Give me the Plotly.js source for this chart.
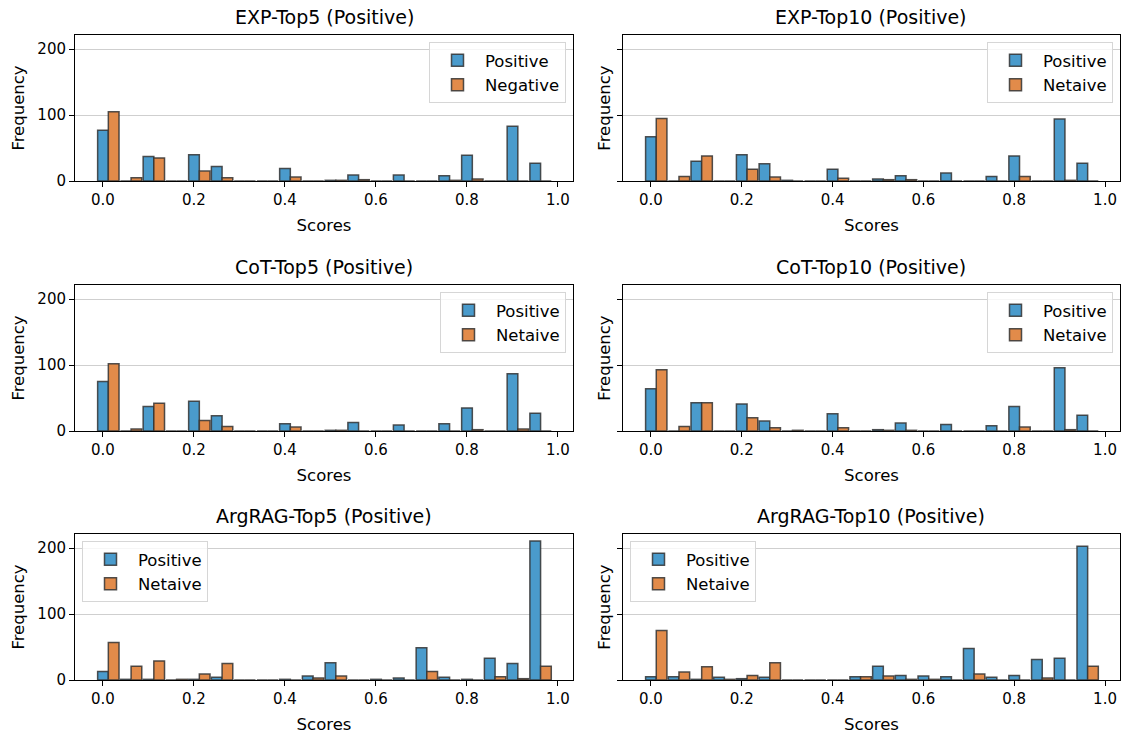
<!DOCTYPE html>
<html>
<head>
<meta charset="utf-8">
<script src="https://cdn.plot.ly/plotly-3.0.1.min.js"></script>
<style>html,body{margin:0;padding:0;background:#fff;}#chart{width:1125px;height:740px;}</style>
</head>
<body>
<div id="chart"></div>
<script>
// Bin positions (score bins)
const bins = [0.00,0.05,0.10,0.15,0.20,0.25,0.30,0.35,0.40,0.45,0.50,0.55,0.60,0.65,0.70,0.75,0.80,0.85,0.90,0.95];

// Panel titles
const titles = ["EXP-Top5 (Positive)","EXP-Top10 (Positive)","CoT-Top5 (Positive)","CoT-Top10 (Positive)","ArgRAG-Top5 (Positive)","ArgRAG-Top10 (Positive)"];
const negNames = ["Negative","Netaive","Netaive","Netaive","Netaive","Netaive"];

// Frequencies per bin
const exp5Pos  = [77,0,37,0,40,22,0,0,19,0,1,9,0,9,0,8,39,0,83,27];
const exp5Neg  = [105,5,35,0,15,5,0,0,6,0,1,2,0,0,0,1,3,0,0,0];
const exp10Pos = [67,0,30,0,40,26,1,0,18,0,3,8,0,12,0,7,38,0,94,27];
const exp10Neg = [95,7,38,0,18,6,0,0,4,0,2,2,0,0,0,0,7,0,1,0];
const cot5Pos  = [75,0,37,0,45,23,0,0,11,0,1,13,0,9,0,11,35,0,87,27];
const cot5Neg  = [102,3,42,0,16,7,0,0,6,0,1,0,0,0,0,0,2,0,3,0];
const cot10Pos = [64,0,43,0,41,15,0,0,26,0,2,12,0,10,0,8,37,0,96,24];
const cot10Neg = [93,7,43,0,20,5,1,0,5,0,1,1,0,0,0,0,6,0,2,0];
const arg5Pos  = [13,1,1,0,1,4,0,0,1,6,26,0,1,3,49,4,1,33,25,211];
const arg5Neg  = [57,21,29,1,9,25,0,0,0,3,6,0,0,0,13,0,0,5,2,21];
const arg10Pos = [5,5,1,4,2,4,0,0,0,5,21,7,6,5,48,4,7,31,33,203];
const arg10Neg = [75,12,20,1,7,26,0,0,0,5,6,1,1,0,9,0,0,3,0,21];

const posSeries = [exp5Pos, exp10Pos, cot5Pos, cot10Pos, arg5Pos, arg10Pos];
const negSeries = [exp5Neg, exp10Neg, cot5Neg, cot10Neg, arg5Neg, arg10Neg];

const W = 1125, H = 740;
const FONT = "DejaVu Sans, sans-serif";
// panel frames in px
const colX = [[75,573],[623,1120]];
const rowY = [[35,181],[285,431],[534,680]];
const barW = 0.0235;

const blue = "rgb(74,155,204)";
const orange = "rgb(226,139,74)";
const edge = "rgba(50,50,50,0.85)";

const data = [];
const layout = {
  width: W, height: H,
  margin: {l:0, r:0, t:0, b:0},
  paper_bgcolor: "#fff", plot_bgcolor: "#fff",
  barmode: "overlay",
  font: {family: FONT, size: 15, color: "#000"},
  annotations: [],
  showlegend: true
};

for (let i = 0; i < 6; i++) {
  const r = Math.floor(i / 2), c = i % 2;
  const ax = i === 0 ? "" : String(i + 1);
  const lg = i === 0 ? "legend" : "legend" + (i + 1);
  data.push({
    type: "bar", name: "Positive", x: bins, y: posSeries[i],
    width: barW, offset: -barW / 2,
    xaxis: "x" + ax, yaxis: "y" + ax, legend: lg,
    marker: {color: blue, line: {color: edge, width: 1.5}},
    hoverinfo: "x+y"
  });
  data.push({
    type: "bar", name: negNames[i], x: bins, y: negSeries[i],
    width: barW, offset: barW / 2,
    xaxis: "x" + ax, yaxis: "y" + ax, legend: lg,
    marker: {color: orange, line: {color: edge, width: 1.5}},
    hoverinfo: "x+y"
  });
  const [xl, xr] = colX[c];
  const [yt, yb] = rowY[r];
  layout["xaxis" + ax] = {
    domain: [xl / W, xr / W],
    anchor: "y" + ax,
    range: [-0.0615, 1.033],
    tick0: 0, dtick: 0.2, tickformat: ".1f",
    ticks: "outside", ticklen: 5, tickwidth: 1, tickcolor: "#000",
    showline: true, mirror: true, linecolor: "#000", linewidth: 1,
    showgrid: false, zeroline: false,
    tickfont: {family: FONT, size: 15, color: "#000"},
    title: {text: "Scores", font: {family: FONT, size: 16.5, color: "#000"}, standoff: 11},
    automargin: false, fixedrange: true
  };
  layout["yaxis" + ax] = {
    domain: [1 - yb / H, 1 - yt / H],
    anchor: "x" + ax,
    range: [0, 221.6],
    tick0: 0, dtick: 100,
    ticks: "outside", ticklen: 5, tickwidth: 1, tickcolor: "#000",
    showline: true, mirror: true, linecolor: "#000", linewidth: 1,
    showgrid: true, gridcolor: "#cfcfcf", gridwidth: 1,
    zeroline: false,
    showticklabels: c === 0,
    tickfont: {family: FONT, size: 15, color: "#000"},
    title: {text: "Frequency", font: {family: FONT, size: 16.5, color: "#000"}, standoff: c === 0 ? 8 : 2},
    automargin: false, fixedrange: true
  };
  layout.annotations.push({
    text: titles[i], xref: "paper", yref: "paper",
    x: (xl + xr) / 2 / W, y: 1 - (yt - 18) / H,
    xanchor: "center", yanchor: "middle", showarrow: false,
    font: {family: FONT, size: 19, color: "#000"}
  });
  const lgObj = {
    bgcolor: "rgba(255,255,255,0.8)", bordercolor: "#d6d6d6", borderwidth: 1,
    font: {family: FONT, size: 16.5, color: "#000"},
    xref: "paper", yref: "paper",
    yanchor: "top", y: 1 - (yt + 7) / H,
    itemwidth: 45, tracegroupgap: 0
  };
  if (r < 2) {
    lgObj.x = (xr - 7) / W; lgObj.xanchor = "right";
  } else {
    lgObj.x = (xl + 7) / W; lgObj.xanchor = "left";
  }
  layout[lg] = lgObj;
}

Plotly.newPlot("chart", data, layout, {displayModeBar: false, staticPlot: true});
</script>
</body>
</html>
